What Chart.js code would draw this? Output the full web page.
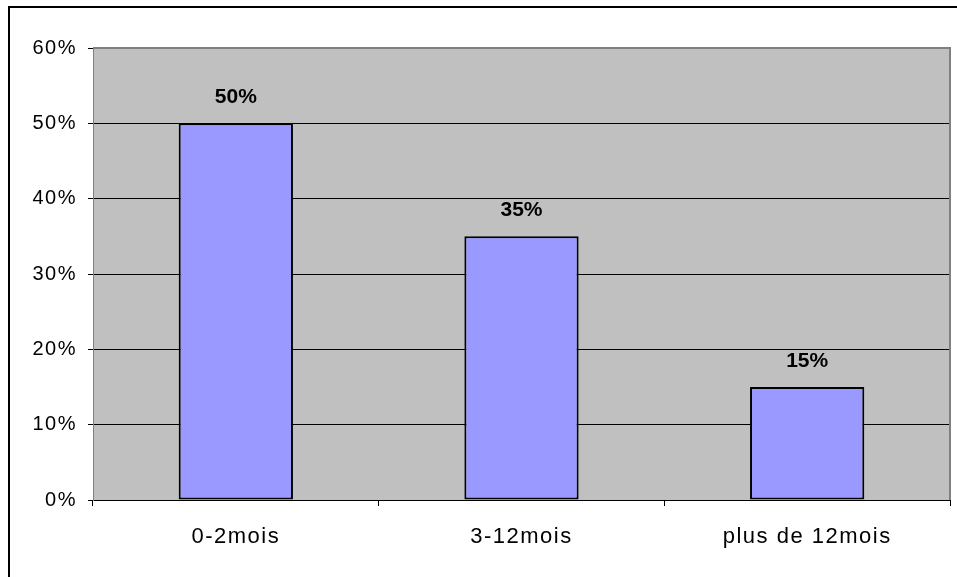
<!DOCTYPE html>
<html>
<head>
<meta charset="utf-8">
<script src="https://cdn.jsdelivr.net/npm/chart.js@4/dist/chart.umd.min.js"></script>
<style>
  html, body { margin: 0; padding: 0; background: #ffffff; }
  #wrap { width: 957px; height: 577px; position: relative; }
</style>
</head>
<body>
<div id="wrap"><canvas id="chart" width="957" height="577"></canvas></div>
<script>
// Répartition par durée
const categories = ['0-2mois', '3-12mois', 'plus de 12mois'];
const values = [50, 35, 15];
const yTicks = [0, 10, 20, 30, 40, 50, 60];

const FONT = '"Liberation Sans", Arial, sans-serif';

// Frame around the whole chart, grey plot background and value labels
const framePlugin = {
  id: 'frame',
  beforeDraw(chart) {
    const { ctx, chartArea: a } = chart;
    ctx.save();
    ctx.fillStyle = '#ffffff';
    ctx.fillRect(0, 0, chart.width, chart.height);
    ctx.strokeStyle = '#000000';
    ctx.lineWidth = 2;
    ctx.strokeRect(9, 7, chart.width + 20, chart.height + 20);
    ctx.fillStyle = '#c0c0c0';
    ctx.fillRect(a.left, a.top, a.right - a.left, a.bottom - a.top);
    ctx.restore();
    // axis labels are drawn slightly spaced out
    ctx.letterSpacing = '1.5px';
  },
  beforeDatasetsDraw(chart) {
    chart.ctx.letterSpacing = '0px';
  },
  afterDatasetsDraw(chart) {
    const { ctx, chartArea: a } = chart;
    ctx.save();
    ctx.strokeStyle = '#808080';
    ctx.lineWidth = 2;
    ctx.beginPath();
    ctx.moveTo(a.left, a.top);
    ctx.lineTo(a.right, a.top);
    ctx.lineTo(a.right, a.bottom);
    ctx.stroke();
    const meta = chart.getDatasetMeta(0);
    ctx.fillStyle = '#000000';
    ctx.font = 'bold 21px ' + FONT;
    ctx.textAlign = 'center';
    ctx.textBaseline = 'alphabetic';
    meta.data.forEach((bar, i) => {
      ctx.fillText(values[i] + '%', bar.x, bar.y - 20);
    });
    ctx.restore();
  }
};

new Chart(document.getElementById('chart'), {
  type: 'bar',
  data: {
    labels: categories,
    datasets: [{
      data: values,
      backgroundColor: '#9999ff',
      borderColor: '#000000',
      borderWidth: 2,
      borderSkipped: false,
      categoryPercentage: 0.4,
      barPercentage: 1.0
    }]
  },
  options: {
    responsive: false,
    animation: false,
    layout: { padding: { left: 0, top: 48, right: 7, bottom: 0 } },
    plugins: { legend: { display: false }, tooltip: { enabled: false } },
    scales: {
      x: {
        afterFit(s) { s.height = 77; },
        grid: { drawOnChartArea: false, drawTicks: true, tickLength: 6, color: '#000000', offset: true },
        border: { display: true, color: '#000000', width: 1 },
        ticks: { color: '#000000', font: { family: FONT, size: 22 }, padding: 18 }
      },
      y: {
        min: 0,
        max: 60,
        afterFit(s) { s.width = 93; },
        afterBuildTicks(s) { s.ticks = yTicks.map(v => ({ value: v })); },
        grid: { color: '#000000', tickLength: 5, lineWidth: 1 },
        border: { display: true, color: '#808080', width: 1 },
        ticks: {
          color: '#000000',
          font: { family: FONT, size: 20 },
          padding: 11,
          callback: v => v + '%'
        }
      }
    }
  },
  plugins: [framePlugin]
});
</script>
</body>
</html>
